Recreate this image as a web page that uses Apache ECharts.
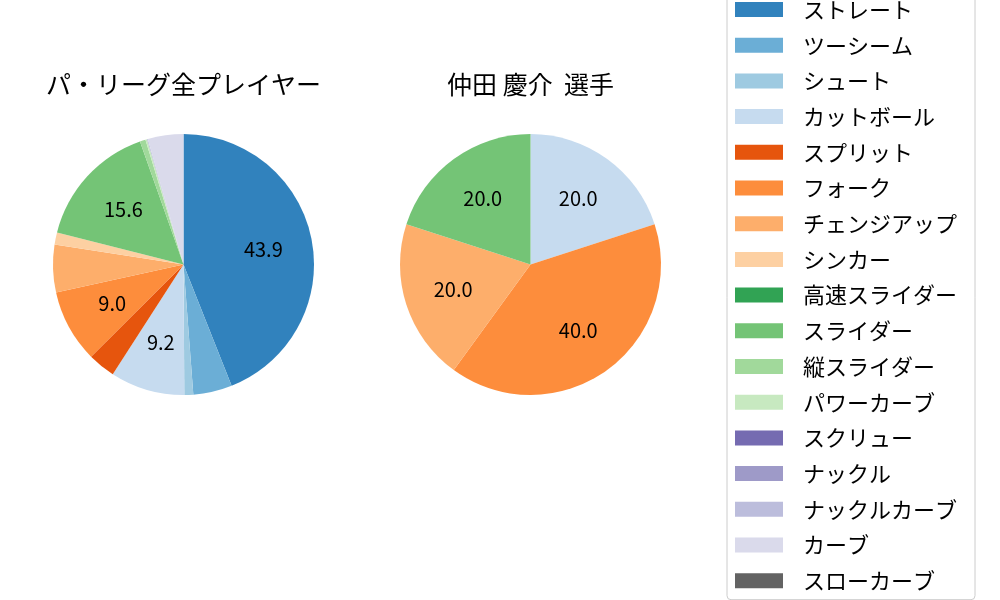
<!DOCTYPE html>
<html>
<head>
<meta charset="utf-8">
<script src="https://cdn.jsdelivr.net/npm/echarts@6/dist/echarts.min.js"></script>
<style>
  html, body { margin: 0; padding: 0; background: #fff; }
  #chart { width: 1000px; height: 600px; }
</style>
</head>
<body>
<div id="chart"></div>
<script>
// Pitch types (legend order) and tab20c colours
const pitchTypes = [
    'ストレート', 'ツーシーム', 'シュート', 'カットボール', 'スプリット', 'フォーク',
    'チェンジアップ', 'シンカー', '高速スライダー', 'スライダー', '縦スライダー', 'パワーカーブ',
    'スクリュー', 'ナックル', 'ナックルカーブ', 'カーブ', 'スローカーブ',
];
const pitchColors = [
    '#3182bd', '#6baed6', '#9ecae1', '#c6dbef', '#e6550d', '#fd8d3c',
    '#fdae6b', '#fdd0a2', '#31a354', '#74c476', '#a1d99b', '#c7e9c0',
    '#756bb1', '#9e9ac8', '#bcbddc', '#dadaeb', '#636363',
];

// Share (%) per pitch type, same order as pitchTypes
const leagueShare = [43.9, 4.8, 1.1, 9.2, 3.4, 9.0, 5.9, 1.5, 0, 15.6, 0.7, 0.2, 0, 0, 0.1, 4.4, 0];
const playerShare = [0, 0, 0, 20.0, 0, 40.0, 20.0, 0, 0, 20.0, 0, 0, 0, 0, 0, 0, 0];

const titles = ['パ・リーグ全プレイヤー', '仲田 慶介  選手'];

const FONT = '"Noto Sans CJK JP", "Noto Sans", sans-serif';
const R = 130.5;
const centers = [[183.5, 264.5], [530.5, 264.5]];
const LABEL_MIN = 7; // small wedges carry no percentage label

function wedges(shares) {
    return pitchTypes.map((name, i) => ({
        name, value: shares[i], itemStyle: { color: pitchColors[i] },
    }));
}

// matplotlib puts the labels at 0.6 R; an invisible pie of 1.2 R puts 'inside' labels there
function labelWedges(shares) {
    return shares.map((v) => ({
        value: v,
        label: { show: v >= LABEL_MIN },
    }));
}

const series = [];
[leagueShare, playerShare].forEach((shares, k) => {
    series.push({
        type: 'pie', center: centers[k], radius: R, startAngle: 90, clockwise: true,
        silent: true, label: { show: false }, labelLine: { show: false },
        itemStyle: { borderWidth: 0 },
        data: wedges(shares),
    });
});
[leagueShare, playerShare].forEach((shares, k) => {
    series.push({
        type: 'pie', center: centers[k], radius: R * 1.2, startAngle: 90, clockwise: true,
        silent: true, itemStyle: { color: 'transparent', borderWidth: 0 },
        label: {
            position: 'inside', color: '#000', fontFamily: FONT, fontSize: 20,
            formatter: (p) => p.value.toFixed(1),
        },
        labelLine: { show: false },
        data: labelWedges(shares),
    });
});

const chart = echarts.init(document.getElementById('chart'), null, { renderer: 'canvas' });
chart.setOption({
    backgroundColor: '#fff',
    animation: false,
    title: titles.map((text, k) => ({
        text, left: centers[k][0], top: 72, textAlign: 'center', padding: 0,
        textStyle: { color: '#000', fontFamily: FONT, fontSize: 25, fontWeight: 'normal' },
    })),
    legend: {
        orient: 'vertical', left: 727, top: -9.5,
        data: pitchTypes,
        itemWidth: 48, itemHeight: 15, itemGap: 13.7,
        icon: 'rect',
        padding: [8, 18, 8, 8],
        borderColor: '#cccccc', borderWidth: 1, borderRadius: 4,
        backgroundColor: '#fff',
        selectedMode: false,
        textStyle: {
            color: '#000', fontFamily: FONT, fontSize: 22, lineHeight: 22,
            padding: [0, 0, 0, 15],
        },
    },
    series,
});
</script>
</body>
</html>
